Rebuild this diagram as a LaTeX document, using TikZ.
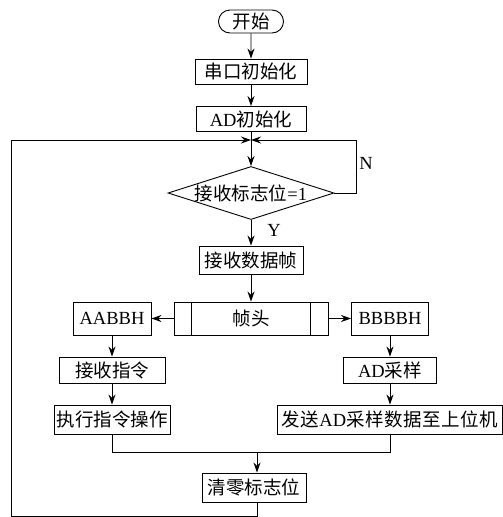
\documentclass[tikz,border=0pt]{standalone}
\usepackage{fontspec}
\setmainfont{Liberation Serif}
\newfontfamily\cjk{Noto Sans CJK SC}
\newfontfamily\cjkwide{Noto Sans CJK SC}[LetterSpace=3]
\usetikzlibrary{arrows.meta,shapes.geometric,shapes.misc}
\begin{document}
\begin{tikzpicture}[x=1pt,y=-1pt,
  font=\fontsize{18.5}{20}\selectfont,
  line width=0.9pt,
  bx/.style={draw,inner sep=0pt},
  arr/.style={-{Stealth[length=10pt,width=7pt]}}]
\useasboundingbox (0,0) rectangle (503,517);
\node[bx,rounded rectangle,minimum width=65,minimum height=23] (start) at (251,21.5) {\cjk 开始};
\node[bx,minimum width=112,minimum height=25] (s1) at (251,71.5) {\cjk 串口初始化};
\node[bx,minimum width=110,minimum height=25] (s2) at (251,119) {AD\cjk 初始化};
\coordinate (j) at (251,140);
\node[draw,diamond,aspect=3.13,inner sep=0pt,minimum width=163,minimum height=52] (dec) at (251,193) {{\cjk 接收标志位}=1};
\coordinate (nr) at (356,140);
\node[bx,minimum width=104,minimum height=28] (rcv) at (251,260) {\cjk 接收数据帧};
\node[bx,minimum width=154,minimum height=33] (fh) at (251,318.5) {\cjk 帧头};
\draw ([xshift=18]fh.north west) -- ([xshift=18]fh.south west);
\draw ([xshift=-18]fh.north east) -- ([xshift=-18]fh.south east);
\node[bx,minimum width=78,minimum height=33] (aab) at (112,318.5) {AABBH};
\node[bx,minimum width=77,minimum height=33] (bbb) at (390,318.5) {BBBBH};
\node[bx,minimum width=106,minimum height=26] (cmd) at (112,370) {\cjk 接收指令};
\node[bx,minimum width=116,minimum height=29] (exe) at (112,419.5) {\cjk 执行指令操作};
\node[bx,minimum width=93,minimum height=26] (ads) at (390,370) {AD\cjk 采样};
\node[bx,minimum width=225,minimum height=29] (snd) at (390,419.5) {{\cjkwide 发送}AD{\cjkwide 采样数据至上位机}};
\node[bx,minimum width=104,minimum height=29] (clr) at (254,487.5) {\cjk 清零标志位};
\coordinate (m) at (257,452);
\coordinate (lb) at (11,516);
\node (N) at (366,163) {N};
\node (Y) at (274,230) {Y};
\draw[arr] (start) -- (s1);
\draw[arr] (s1) -- (s2);
\draw[arr] (s2) -- (dec);
\draw[arr] (dec.east) -| (nr) -- (j);
\draw[arr] (dec) -- (rcv);
\draw[arr] (rcv) -- (fh);
\draw[arr] (fh) -- (aab);
\draw[arr] (fh) -- (bbb);
\draw[arr] (aab) -- (cmd);
\draw[arr] (cmd) -- (exe);
\draw[arr] (bbb) -- (ads);
\draw[arr] (ads) -- (snd);
\draw (exe.south) |- (m);
\draw (snd.south) |- (m);
\draw[arr] (m) -- (m |- clr.north);
\draw[arr] (clr.south -| m) -- (m |- lb) -- (lb) -- (lb |- j) -- (j);
\end{tikzpicture}
\end{document}
